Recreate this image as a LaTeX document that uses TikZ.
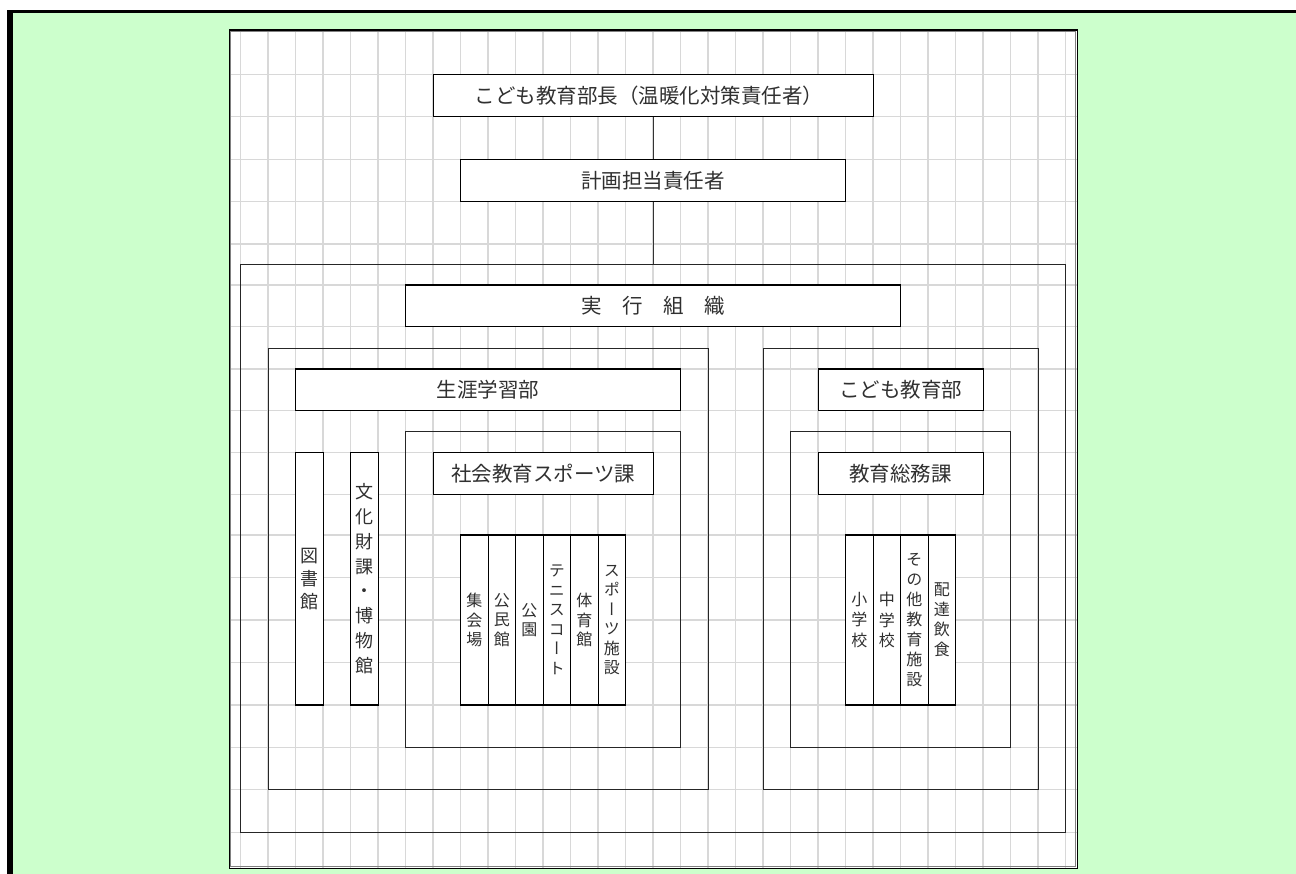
\documentclass[tikz,border=0pt]{standalone}
\usepackage{fontspec}
\newfontfamily\jp{Noto Sans CJK JP}
\newfontfamily\jpv[RawFeature=+vert]{Noto Sans CJK JP}
\usetikzlibrary{fit}
\definecolor{bggreen}{HTML}{CCFFCC}
\definecolor{gridgray}{HTML}{D8D8D8}
\definecolor{txt}{HTML}{303030}
\tikzset{
  tbox/.style={draw=black, line width=1.2pt, fill=white, inner sep=0pt},
  htext/.style={inner sep=0pt, text=txt, font=\jp\fontsize{20.5}{24}\selectfont},
  cont/.style={draw=black!85, line width=0.9pt, inner sep=0pt},
  vbox/.style={draw=black, line width=1.2pt, fill=white, inner sep=0pt},
  vtext/.style={inner sep=0pt, align=center, text=txt, font=\jpv\fontsize{16}{19.5}\selectfont},
  link/.style={draw=black!80, line width=0.9pt},
  gridline/.style={draw=gridgray, line width=1.5pt},
}
\begin{document}
\begin{tikzpicture}[x=1pt,y=-1pt]
\useasboundingbox (0,0) rectangle (1296,874);
% page background
\fill[white] (0,0) rectangle (1296,874);
\fill[black] (7.3,10) rectangle (1296,874);
\fill[bggreen] (12.7,12.7) rectangle (1296,874);
% sheet panel
\fill[white] (229.3,30) rectangle (1077.3,868.3);
\foreach \i in {0,...,30}
  \draw[gridline] ({240.7+27.5*\i},30) -- ({240.7+27.5*\i},868.3);
\foreach \y in {74.3,116.7,159.3,201.7,244,285,326.7,369,410.7,452.3,494.3,535,577.5,620,662.5,705,747.3,789.5,832.3}
  \draw[gridline] (229.3,\y) -- (1077.3,\y);
\draw[gray, line width=1pt] (230.8,31.5) rectangle (1075.8,866.8);
\draw[black, line width=1.5pt] (229.3,30) rectangle (1077.3,868.3);

% containers
\node[cont, fit={(240.7,264.3) (1065.7,832.3)}] (org) {};
\node[cont, fit={(268.2,348) (708.2,789.5)}] (lcont) {};
\node[cont, fit={(763.2,348) (1038.2,789.5)}] (rcont) {};
\node[cont, fit={(405.7,431.7) (680.7,747.3)}] (linner) {};
\node[cont, fit={(790.7,431.7) (1010.7,747.3)}] (rinner) {};

% text boxes
\node[tbox, fit={(433.2,74.3) (873.2,116.7)}, label={[htext, xshift=-4pt]center:こども教育部長（温暖化対策責任者）}] (head) {};
\node[tbox, fit={(460.7,159.3) (845.7,201.7)}, label={[htext]center:計画担当責任者}] (plan) {};
\node[tbox, fit={(405.7,285) (900.7,326.7)}, label={[htext]center:実　行　組　織}] (exec) {};
\node[tbox, fit={(295.7,369) (680.7,410.7)}, label={[htext]center:生涯学習部}] (lifelong) {};
\node[tbox, fit={(818.2,369) (983.2,410.7)}, label={[htext]center:こども教育部}] (kodomo) {};
\node[tbox, fit={(433.2,452.3) (653.2,494.3)}, label={[htext]center:社会教育スポーツ課}] (social) {};
\node[tbox, fit={(818.2,452.3) (983.2,494.3)}, label={[htext]center:教育総務課}] (general) {};

% vertical boxes
\node[vbox, fit={(295.7,452.3) (323.2,705)}, label={[vtext, font=\jpv\fontsize{18}{23}\selectfont]center:{図\\書\\館}}] (library) {};
\node[vbox, fit={(350.7,452.3) (378.2,705)}, label={[vtext, font=\jpv\fontsize{18}{24.8}\selectfont]center:{文\\化\\財\\課\\・\\博\\物\\館}}] (culture) {};

\node[vbox, fit={(460.7,535) (488.2,705)}, label={[vtext]center:{集\\会\\場}}] (s1) {};
\node[vbox, fit={(488.2,535) (515.7,705)}, label={[vtext]center:{公\\民\\館}}] (s2) {};
\node[vbox, fit={(515.7,535) (543.2,705)}, label={[vtext]center:{公\\園}}] (s3) {};
\node[vbox, fit={(543.2,535) (570.7,705)}, label={[vtext]center:{テ\\ニ\\ス\\コ\\ー\\ト}}] (s4) {};
\node[vbox, fit={(570.7,535) (598.2,705)}, label={[vtext]center:{体\\育\\館}}] (s5) {};
\node[vbox, fit={(598.2,535) (625.7,705)}, label={[vtext]center:{ス\\ポ\\ー\\ツ\\施\\設}}] (s6) {};

\node[vbox, fit={(845.7,535) (873.2,705)}, label={[vtext, font=\jpv\fontsize{16}{20.5}\selectfont]center:{小\\学\\校}}] (r1) {};
\node[vbox, fit={(873.2,535) (900.7,705)}, label={[vtext, font=\jpv\fontsize{16}{20.5}\selectfont]center:{中\\学\\校}}] (r2) {};
\node[vbox, fit={(900.7,535) (928.2,705)}, label={[vtext, font=\jpv\fontsize{16}{20}\selectfont]center:{そ\\の\\他\\教\\育\\施\\設}}] (r3) {};
\node[vbox, fit={(928.2,535) (955.7,705)}, label={[vtext, font=\jpv\fontsize{16}{20}\selectfont]center:{配\\達\\飲\\食}}] (r4) {};

% connectors
\draw[link] (head.south) -- (plan.north);
\draw[link] (plan.south) -- (org.north);
\end{tikzpicture}
\end{document}
